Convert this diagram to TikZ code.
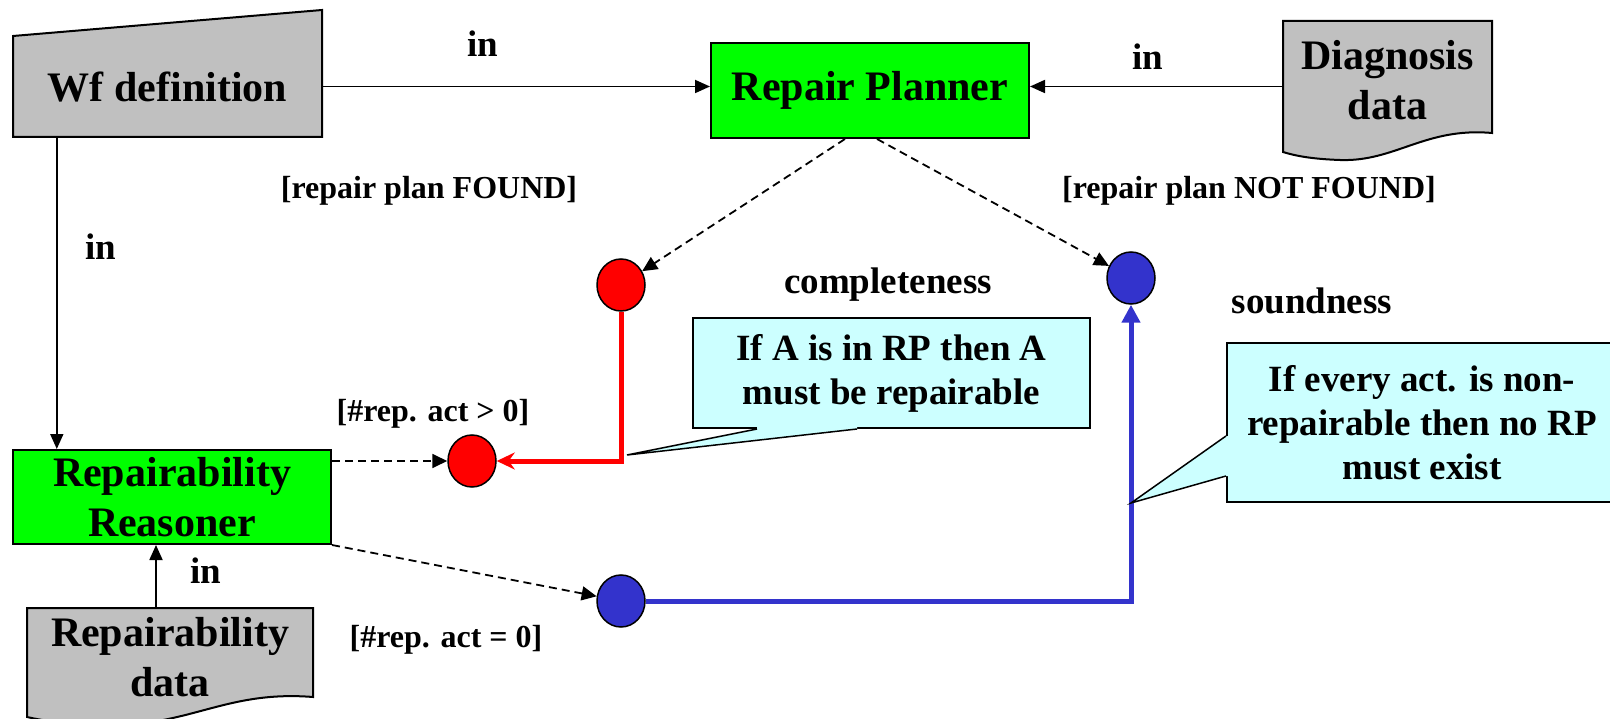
\documentclass[tikz,border=0pt]{standalone}
\usepackage{fontspec}
\setmainfont{Liberation Serif}
\usetikzlibrary{arrows.meta,shapes.geometric}

\definecolor{pptgreen}{RGB}{0,255,0}
\definecolor{pptgray}{RGB}{192,192,192}
\definecolor{pptcyan}{RGB}{204,255,255}
\definecolor{pptblue}{RGB}{51,51,204}
\definecolor{pptred}{RGB}{255,0,0}

\begin{document}
\begin{tikzpicture}
	[	x=1pt,y=-1pt,
		box/.style={rectangle,draw=black,line width=2pt,fill=pptgreen,inner sep=0pt,align=center,font=\fontsize{42}{50}\selectfont\bfseries},
		plain/.style={draw=none,fill=none,inner sep=0pt,align=center},
		big/.style={font=\fontsize{42}{50}\selectfont\bfseries},
		doc/.style={draw=black,line width=2pt,fill=pptgray},
		spot/.style={ellipse,draw=black,line width=1.5pt,minimum width=48pt,minimum height=52pt,inner sep=0pt},
		note/.style={rectangle,draw=black,line width=2pt,fill=pptcyan,inner sep=0pt,align=center,font=\fontsize{37}{44}\selectfont\bfseries},
		lbl/.style={plain,font=\fontsize{37}{44}\selectfont\bfseries},
		cond/.style={plain,font=\fontsize{32}{38}\selectfont\bfseries},
		feed/.style={line width=1.8pt,-{Triangle[length=15pt,width=13pt]}},
		flow/.style={line width=1.8pt,dash pattern=on 8pt off 5pt,-{Triangle[length=15pt,width=14pt]}},
		redpath/.style={line width=5pt,draw=pptred,-{Stealth[length=18pt,width=17pt,inset=6pt]}},
		bluepath/.style={line width=5pt,draw=pptblue,-{Triangle[length=18pt,width=18pt]}},
	]
		\clip (0,0) rectangle (1610,719);

		% data shapes
		\filldraw[doc] (13,137) -- (13,36) -- (322,10) -- (322,137) -- cycle;
		\filldraw[doc] (1283,21) -- (1492,21) -- (1492,133) .. controls (1425,127) and (1395,162) .. (1340,160) .. controls (1312,159) and (1296,156) .. (1283,152) -- cycle;
		\filldraw[doc] (27,608) -- (313,608) -- (313,697) .. controls (225,690) and (190,727) .. (104,725) .. controls (65,724) and (45,721) .. (27,717) -- cycle;

		\node[plain,big,minimum width=309pt,minimum height=101pt] (wf) at (167.5,87.5) {Wf definition};
		\node[plain,big,minimum width=209pt,minimum height=118pt] (diag) at (1387.5,80) {Diagnosis\\data};
		\node[plain,big,minimum width=286pt,minimum height=98pt] (rdata) at (170,657) {Repairability\\data};

		\node[box,minimum width=318pt,minimum height=95pt] (plan) at (870,90.5) {Repair Planner};
		\node[box,minimum width=318pt,minimum height=94pt] (reason) at (172,497) {Repairability\\Reasoner};

		\node[spot,fill=pptred] (red1) at (621,285) {};
		\node[spot,fill=pptblue] (blue1) at (1131,278) {};
		\node[spot,fill=pptred] (red2) at (472,461) {};
		\node[spot,fill=pptblue] (blue2) at (621,601) {};
		\coordinate (rturn) at (621,461);
		\coordinate (bturn) at (1131,601);

		\draw[feed] ([yshift=1pt]wf.east) -- ([yshift=1pt]wf.east -| plan.west);
		\draw[feed] ([yshift=1pt]diag.west |- wf.east) -- ([yshift=1pt]plan.east |- wf.east);
		\draw[feed] ([xshift=44pt]wf.south west) -- ([xshift=44pt]wf.south west |- reason.north);
		\draw[feed] ([xshift=-14pt]rdata.north) -- ([xshift=-14pt]rdata.north |- reason.south);
		\draw[flow] ([xshift=-25pt]plan.south) -- (red1);
		\draw[flow] ([xshift=7pt]plan.south) -- (blue1);
		\draw[flow] (reason.east |- red2) -- (red2);
		\draw[flow] (reason.south east) -- (blue2);
		\draw[redpath] (red1) -- (rturn) -- (red2);
		\draw[bluepath] (blue2) -- (bturn) -- (blue1);

		% callouts
		\node[note,minimum width=397pt,minimum height=110pt] (note1) at (891.5,373) {If A is in RP then A\\must be repairable};
		\node[note,minimum width=390pt,minimum height=159pt] (note2) at (1422,422.5) {If every act. is non-\\repairable then no RP\\must exist};
		\coordinate (tip1) at (627,455);
		\coordinate (tip2) at (1131,503);
		\fill[pptcyan] ([xshift=65pt]note1.south west) -- (tip1) -- ([xshift=165pt]note1.south west) -- ([xshift=165pt,yshift=3pt]note1.south west) -- ([xshift=65pt,yshift=3pt]note1.south west) -- cycle;
		\draw[line width=1.5pt] ([xshift=65pt]note1.south west) -- (tip1) -- ([xshift=165pt]note1.south west);
		\fill[pptcyan] ([yshift=-94pt]note2.north west) -- (tip2) -- ([yshift=-134pt]note2.north west) -- ([xshift=3pt,yshift=-134pt]note2.north west) -- ([xshift=3pt,yshift=-94pt]note2.north west) -- cycle;
		\draw[line width=1.5pt] ([yshift=-94pt]note2.north west) -- (tip2) -- ([yshift=-134pt]note2.north west);

		\node[lbl] (in1) at (483,44) {in};
		\node[lbl] (in2) at (1148,57) {in};
		\node[lbl] (in3) at (101,247) {in};
		\node[lbl] (in4) at (206,571) {in};
		\node[cond] (found) at (429,191) {[repair plan FOUND]};
		\node[cond] (notfound) at (1249,191) {[repair plan NOT FOUND]};
		\node[cond] (gtzero) at (433,414) {[\#rep. act > 0]};
		\node[cond] (eqzero) at (446,640) {[\#rep. act = 0]};
		\node[lbl] (compl) at (888,285) {completeness};
		\node[lbl] (sound) at (1312,301) {soundness};
	\end{tikzpicture}
\end{document}
